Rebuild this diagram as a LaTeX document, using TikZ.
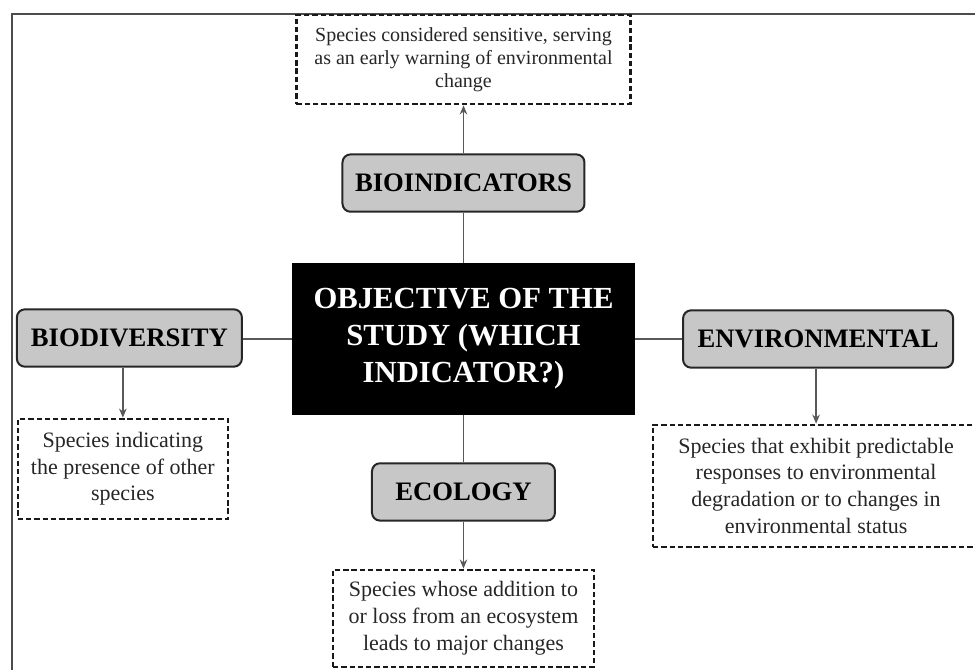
\documentclass[tikz,border=0pt]{standalone}
\usepackage{fontspec}
\setmainfont{Liberation Serif}
\usetikzlibrary{positioning,arrows.meta}
\definecolor{topicgrey}{gray}{0.78}
\definecolor{linegrey}{gray}{0.35}
\tikzset{
  fig/.style={font=\rmfamily},
  topic/.style={draw=black!85,line width=1.5pt,fill=topicgrey,rounded corners=6pt,
                minimum height=43pt,align=center,inner sep=2pt,
                font=\fontsize{20}{24}\selectfont\bfseries},
  hub/.style={fill=black,text=white,minimum width=257pt,minimum height=114pt,
              align=center,inner sep=2pt,font=\fontsize{23}{27.75}\selectfont\bfseries},
  note/.style={draw=black!90,line width=1.6pt,dash pattern=on 4pt off 2.2pt,
               align=center,inner sep=2pt,text=black!85,
               font=\fontsize{16.5}{20}\selectfont},
  ln/.style={-{Stealth[length=2.4mm,width=2mm]},draw=linegrey,line width=1pt},
  lnk/.style={draw=linegrey,line width=1pt},
}

\begin{document}
\begin{tikzpicture}[fig]

\useasboundingbox (-347.625pt,254.25pt) rectangle (383.625pt,-247.5pt);
% frame, cut off by the page on the right and at the bottom
\draw[draw=black!70,line width=1.1pt] (-338.6pt,243.75pt) rectangle (400pt,-270pt);

\node[hub] (obj) at (0,0) {OBJECTIVE OF THE\\STUDY (WHICH\\INDICATOR?)};

\node[topic,minimum width=181.5pt,above=37.5pt of obj] (bind) {BIOINDICATORS};
\node[topic,minimum width=168.75pt,left=36.75pt of obj,yshift=0.75pt] (bdiv) {BIODIVERSITY};
\node[topic,minimum width=202.5pt,right=35.25pt of obj] (env) {ENVIRONMENTAL};
\node[topic,minimum width=137.25pt,below=35.25pt of obj] (eco) {ECOLOGY};

\node[note,minimum width=250.5pt,minimum height=66.75pt,above=36pt of bind,
      font=\fontsize{15}{17.5}\selectfont] (nbind)
  {Species considered sensitive, serving\\as an early warning of environmental\\change};
\node[note,minimum width=157.5pt,minimum height=75pt,below=37.5pt of bdiv,xshift=-4.9pt] (nbdiv)
  {Species indicating\\the presence of other\\species};
\node[note,minimum width=244.5pt,minimum height=91.5pt,below=41.25pt of env,xshift=-1.5pt] (nenv)
  {Species that exhibit predictable\\responses to environmental\\degradation or to changes in\\environmental status};
\node[note,minimum width=195.75pt,minimum height=72.75pt,below=35.25pt of eco] (neco)
  {Species whose addition to\\or loss from an ecosystem\\leads to major changes};

\draw[lnk] (obj) -- (bind);
\draw[lnk] (obj) -- (bdiv.east |- obj);
\draw[lnk] (obj) -- (env);
\draw[lnk] (obj) -- (eco);

\draw[ln] (bind) -- (nbind);
\draw[ln] (bdiv.south -| nbdiv) -- (nbdiv);
\draw[ln] (env.south -| nenv) -- (nenv);
\draw[ln] (eco) -- (neco);

\end{tikzpicture}
\end{document}
